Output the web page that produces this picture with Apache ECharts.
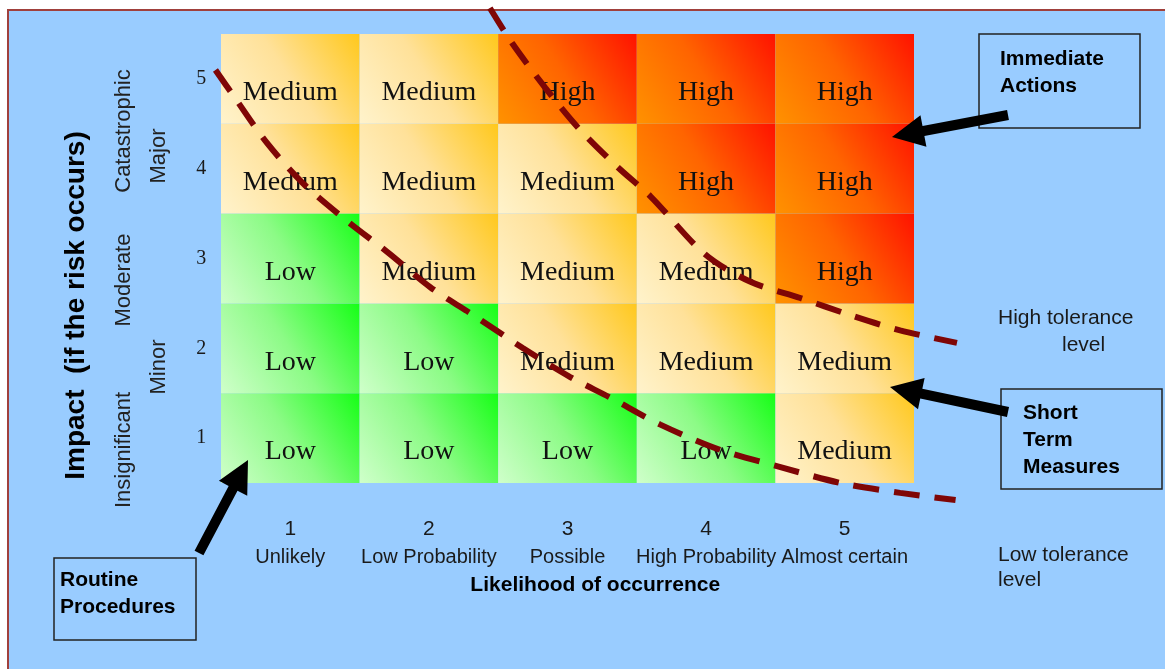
<!DOCTYPE html>
<html>
<head>
<meta charset="utf-8">
<script src="https://cdn.jsdelivr.net/npm/echarts@6/dist/echarts.min.js"></script>
<style>
  html, body { margin: 0; padding: 0; background: #ffffff; }
  #chart { width: 1165px; height: 669px; }
</style>
</head>
<body>
<div id="chart"></div>
<script>
// ---- Risk matrix data ----
const likelihoodTicks = [1, 2, 3, 4, 5];
const likelihoodLabels = ['Unlikely', 'Low Probability', 'Possible', 'High Probability', 'Almost certain'];
const impactTicks = [1, 2, 3, 4, 5];
const impactNames = ['Insignificant', 'Minor', 'Moderate', 'Major', 'Catastrophic'];

// Risk level for each impact row, left to right by likelihood
const riskImpact1 = ['Low', 'Low', 'Low', 'Low', 'Medium'];
const riskImpact2 = ['Low', 'Low', 'Medium', 'Medium', 'Medium'];
const riskImpact3 = ['Low', 'Medium', 'Medium', 'Medium', 'High'];
const riskImpact4 = ['Medium', 'Medium', 'Medium', 'High', 'High'];
const riskImpact5 = ['Medium', 'Medium', 'High', 'High', 'High'];

// Tolerance boundaries as [likelihood, impact]
const highToleranceLine = [
  [2.44, 5.79], [2.60, 5.40], [2.84, 4.90], [3.08, 4.45], [3.36, 4.02], [3.60, 3.69],
  [3.99, 3.05], [4.32, 2.74], [4.68, 2.56], [5.04, 2.37], [5.40, 2.20], [5.81, 2.06]
];
const lowToleranceLine = [
  [0.46, 5.10], [0.60, 4.79], [0.83, 4.29], [1.09, 3.84], [1.40, 3.43], [1.71, 3.06],
  [2.01, 2.68], [2.35, 2.34], [2.68, 2.00], [3.02, 1.68], [3.31, 1.45], [3.67, 1.15],
  [4.10, 0.87], [4.53, 0.68], [4.97, 0.50], [5.40, 0.39], [5.80, 0.31]
];

// ---- Build cell list ----
const riskRows = [riskImpact1, riskImpact2, riskImpact3, riskImpact4, riskImpact5];
const cells = [];
riskRows.forEach((row, i) => {
  row.forEach((level, j) => {
    cells.push([likelihoodTicks[j], impactTicks[i], level]);
  });
});

const levelColors = {
  Low:    [['#cfffca', 0], ['#8cfb86', 0.5], ['#16ff16', 1]],
  Medium: [['#fff3cc', 0], ['#ffe199', 0.5], ['#ffc81c', 1]],
  High:   [['#ff9200', 0], ['#ff6400', 0.5], ['#ff1200', 1]]
};

function cellFill(level) {
  return new echarts.graphic.LinearGradient(0, 1, 1, 0,
    levelColors[level].map(([color, offset]) => ({ offset, color })));
}

function renderCell(params, api) {
  const cell = cells[params.dataIndex];
  const x = api.value(0), y = api.value(1);
  const p0 = api.coord([x - 0.5, y + 0.5]);
  const p1 = api.coord([x + 0.5, y - 0.5]);
  const w = p1[0] - p0[0], h = p1[1] - p0[1];
  return {
    type: 'group',
    children: [
      {
        type: 'rect',
        shape: { x: p0[0], y: p0[1], width: w, height: h },
        style: { fill: cellFill(cell[2]) }
      },
      {
        type: 'text',
        style: {
          text: cell[2],
          x: p0[0] + w / 2,
          y: p0[1] + h / 2 + 14,
          align: 'center',
          verticalAlign: 'middle',
          font: '28px "Liberation Serif", "Times New Roman", serif',
          fill: '#111111'
        }
      }
    ]
  };
}

// Block arrow polygon from tail to tip
function arrowPoints(tail, tip, shaft, headW, headL) {
  const dx = tip[0] - tail[0], dy = tip[1] - tail[1];
  const len = Math.hypot(dx, dy);
  const ux = dx / len, uy = dy / len, nx = -uy, ny = ux;
  const bx = tip[0] - ux * headL, by = tip[1] - uy * headL;
  const s = shaft / 2, hw = headW / 2;
  return [
    [tail[0] + nx * s, tail[1] + ny * s],
    [bx + nx * s, by + ny * s],
    [bx + nx * hw, by + ny * hw],
    tip,
    [bx - nx * hw, by - ny * hw],
    [bx - nx * s, by - ny * s],
    [tail[0] - nx * s, tail[1] - ny * s]
  ];
}

const sansFont = '"Liberation Sans", Arial, sans-serif';

function boxText(x, y, text) {
  return {
    type: 'text', x, y, z: 100,
    style: {
      text, align: 'left', verticalAlign: 'top',
      font: 'bold 21px ' + sansFont, lineHeight: 27, fill: '#000'
    }
  };
}
function box(x, y, w, h) {
  return {
    type: 'rect', z: 100,
    shape: { x, y, width: w, height: h },
    style: { fill: 'none', stroke: '#222', lineWidth: 1.5 }
  };
}
function arrow(tail, tip) {
  return {
    type: 'polygon', z: 100,
    shape: { points: arrowPoints(tail, tip, 10, 32, 32) },
    style: { fill: '#000' }
  };
}
function plainText(x, y, text, align) {
  return {
    type: 'text', x, y, z: 100,
    style: {
      text, align: align || 'left', verticalAlign: 'middle',
      font: '21px ' + sansFont, fill: '#1a1a1a'
    }
  };
}
function impactName(x, y, text) {
  return {
    type: 'text', x, y, rotation: Math.PI / 2, z: 100,
    style: {
      text, x: 0, y: 0, align: 'center', verticalAlign: 'middle',
      font: '22px ' + sansFont, fill: '#222'
    }
  };
}

const chart = echarts.init(document.getElementById('chart'), null, { renderer: 'canvas' });

// The x range runs a little past the matrix so the tolerance curves can extend beyond it.
chart.setOption({
  animation: false,
  backgroundColor: '#99ccff',
  grid: { left: 207.14, right: 181.7, top: 34, bottom: 186 },
  xAxis: {
    type: 'value', min: 0.4, max: 6.0,
    axisLine: { show: false }, axisTick: { show: false }, splitLine: { show: false },
    axisLabel: {
      customValues: likelihoodTicks,
      margin: 32,
      hideOverlap: false,
      showMinLabel: true,
      showMaxLabel: true,
      formatter: v => '{n|' + v + '}\n{name|' + likelihoodLabels[v - 1] + '}',
      rich: {
        n: { fontFamily: sansFont, fontSize: 21, color: '#1a1a1a', lineHeight: 28 },
        name: { fontFamily: sansFont, fontSize: 20, color: '#1a1a1a', lineHeight: 28 }
      }
    },
    name: 'Likelihood of occurrence',
    nameLocation: 'middle',
    nameGap: 92,
    nameTextStyle: {
      fontFamily: sansFont, fontWeight: 'bold', fontSize: 21, color: '#000'
    }
  },
  yAxis: {
    type: 'value', min: 0.5, max: 5.5,
    axisLine: { show: false }, axisTick: { show: false }, splitLine: { show: false },
    axisLabel: {
      customValues: impactTicks,
      margin: 1,
      fontFamily: '"Liberation Serif", "Times New Roman", serif',
      fontSize: 20, color: '#1a1a1a'
    },
    name: 'Impact  (if the risk occurs)',
    nameLocation: 'middle',
    nameRotate: 90,
    nameGap: 117,
    nameTextStyle: {
      fontFamily: sansFont, fontWeight: 'bold', fontSize: 28, color: '#000',
      padding: [0, 94, 0, 0]
    }
  },
  graphic: [
    // page edge and frame
    { type: 'rect', z: -100, shape: { x: 0, y: 0, width: 1165, height: 10 }, style: { fill: '#ffffff' } },
    { type: 'rect', z: -100, shape: { x: 0, y: 0, width: 7, height: 669 }, style: { fill: '#ffffff' } },
    { type: 'polyline', z: -90, shape: { points: [[8, 669], [8, 10], [1165, 10]] },
      style: { stroke: '#a0403c', lineWidth: 2, fill: 'none' } },

    impactName(124, 131, impactNames[4]),
    impactName(159, 156, impactNames[3]),
    impactName(124, 280, impactNames[2]),
    impactName(159, 367, impactNames[1]),
    impactName(124, 450, impactNames[0]),

    box(979, 34, 161, 94),
    boxText(1000, 46, 'Immediate\nActions'),
    arrow([1008, 115], [892, 137]),

    box(1001, 389, 161, 100),
    boxText(1023, 400, 'Short\nTerm\nMeasures'),
    arrow([1008, 412], [890, 387]),

    box(54, 558, 142, 82),
    boxText(60, 567, 'Routine\nProcedures'),
    arrow([199, 553], [248, 460]),

    plainText(998, 318, 'High tolerance'),
    plainText(1062, 345, 'level'),
    plainText(998, 555, 'Low tolerance'),
    plainText(998, 580, 'level')
  ],
  series: [
    {
      type: 'custom',
      name: 'Risk level',
      renderItem: renderCell,
      data: cells.map(c => [c[0], c[1]]),
      z: 2
    },
    {
      type: 'line',
      name: 'High tolerance level',
      data: highToleranceLine,
      smooth: 0.3,
      clip: false,
      showSymbol: false,
      symbol: 'none',
      z: 5,
      lineStyle: { color: '#7f0606', width: 6, type: [26, 15], cap: 'butt' }
    },
    {
      type: 'line',
      name: 'Low tolerance level',
      data: lowToleranceLine,
      smooth: 0.3,
      clip: false,
      showSymbol: false,
      symbol: 'none',
      z: 5,
      lineStyle: { color: '#7f0606', width: 6, type: [26, 15], cap: 'butt' }
    }
  ]
});
</script>
</body>
</html>
